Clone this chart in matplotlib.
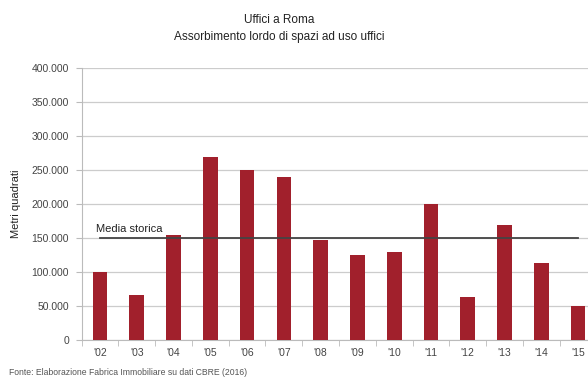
import matplotlib.pyplot as plt
from matplotlib.ticker import FuncFormatter

plt.rcParams['font.family'] = ['Liberation Sans', 'DejaVu Sans']

anni = ["'02", "'03", "'04", "'05", "'06", "'07", "'08", "'09", "'10", "'11", "'12", "'13", "'14", "'15"]
assorbimento = [100000, 66000, 155000, 270000, 250000, 240000, 148000,
                125000, 130000, 200000, 63000, 170000, 114000, 50000]
media_storica = 150000

fig = plt.figure(figsize=(5.88, 3.80), dpi=100)
ax = fig.add_axes([0.1388, 0.105, 0.8755, 0.715])

x = list(range(len(anni)))
ax.bar(x, assorbimento, width=0.4, color='#a1202c', zorder=3)
ax.plot([x[0], x[-1]], [media_storica, media_storica], color='#444444', lw=1.3, zorder=4)
ax.text(x[0] - 0.1, media_storica + 9000, 'Media storica', fontsize=8, color='#222222')

ax.set_xlim(-0.5, len(anni) - 0.5)
ax.set_ylim(0, 400000)
ax.set_yticks(range(0, 400001, 50000))
ax.yaxis.set_major_formatter(FuncFormatter(lambda v, p: f'{int(v):,}'.replace(',', '.')))
ax.set_xticks(x)
ax.set_xticklabels(anni)
ax.set_xticks([i - 0.5 for i in range(len(anni) + 1)], minor=True)
ax.tick_params(axis='x', which='major', length=0, pad=6, labelsize=7.5, labelcolor='#444444')
ax.tick_params(axis='x', which='minor', length=4, color='#bbbbbb')
ax.tick_params(axis='y', length=4, color='#bbbbbb', labelsize=7.5, labelcolor='#444444', pad=5)

ax.grid(axis='y', color='#cccccc', lw=0.9, zorder=0)
for side in ['top', 'right']:
    ax.spines[side].set_visible(False)
ax.spines['left'].set_color('#bbbbbb')
ax.spines['bottom'].set_color('#bbbbbb')

ax.set_ylabel('Metri quadrati', fontsize=8, color='#222222')
ax.yaxis.set_label_coords(-0.118, 0.5)

fig.text(0.475, 0.94, 'Uffici a Roma', ha='center', fontsize=8.5, color='#222222')
fig.text(0.475, 0.895, 'Assorbimento lordo di spazi ad uso uffici', ha='center', fontsize=8.5, color='#222222')
fig.text(0.015, 0.012, 'Fonte: Elaborazione Fabrica Immobiliare su dati CBRE (2016)', fontsize=6.2, color='#555555')

fig.savefig('out.png', dpi=100)
